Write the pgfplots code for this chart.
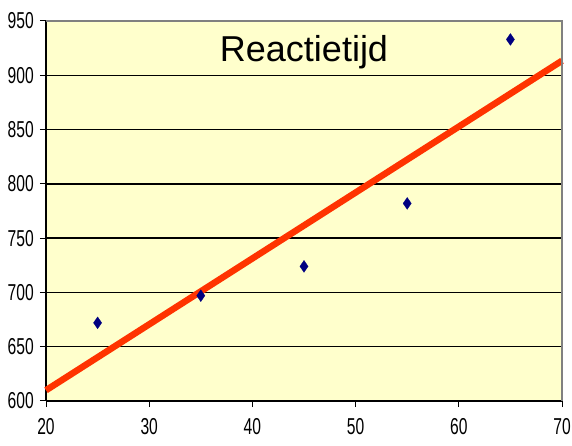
\documentclass[border=0pt]{standalone}
\usepackage{fontspec}
\setmainfont{Liberation Sans}
\newfontfamily\tickfont{Liberation Sans}[FakeStretch=0.68]
\usepackage{pgfplots}
\pgfplotsset{compat=1.18}
\definecolor{chartbg}{RGB}{255,255,204}
\definecolor{trendred}{RGB}{255,51,0}
\definecolor{ptnavy}{RGB}{0,0,128}
\definecolor{framegray}{RGB}{128,128,128}
\begin{document}
\begin{tikzpicture}
    \begin{axis}[name=ax,
                 scale only axis,
                 width=516pt,
                 height=380pt,
                 xmin=20, xmax=70,
                 ymin=600, ymax=950,
                 xtick={20,30,...,70},
                 ytick={600,650,...,950},
                 axis x line=bottom,
                 axis y line=left,
                 axis line style={-, black, line width=1.5pt},
                 axis background/.style={fill=chartbg},
                 ymajorgrids,
                 grid style={black, line width=1.5pt},
                 tick align=outside,
                 major tick length=6pt,
                 tick style={black, line width=1pt},
                 /pgf/number format/assume math mode=true,
                 tick label style={font=\tickfont\fontsize{23}{24}\selectfont, inner sep=0pt},
                 xticklabel style={yshift=-11pt},
                 yticklabel style={xshift=-6pt},
                 clip=false]
        % measurements
        \addplot[only marks, mark=diamond*, mark size=6pt,
                 mark options={fill=ptnavy, draw=ptnavy, line width=0.2pt, xscale=0.92}]
            coordinates {(25,672) (35,697) (45,724) (55,782) (65,933)};

        % trend line
        \addplot[color=trendred, line width=6.5pt]
            coordinates {(20,609.9) (70,913.4)};

        % frame on top and right
        \draw[framegray, line width=1.5pt] (rel axis cs:0,1) -- (rel axis cs:1,1) -- (rel axis cs:1,0);

        \node at (axis cs:45,912.5) [anchor=base, font=\fontsize{36}{40}\selectfont] {Reactietijd};
    \end{axis}
    \pgfresetboundingbox
    \path ([xshift=-46pt,yshift=-45pt]ax.south west) rectangle ([xshift=10pt,yshift=21pt]ax.north east);
\end{tikzpicture}
\end{document}
